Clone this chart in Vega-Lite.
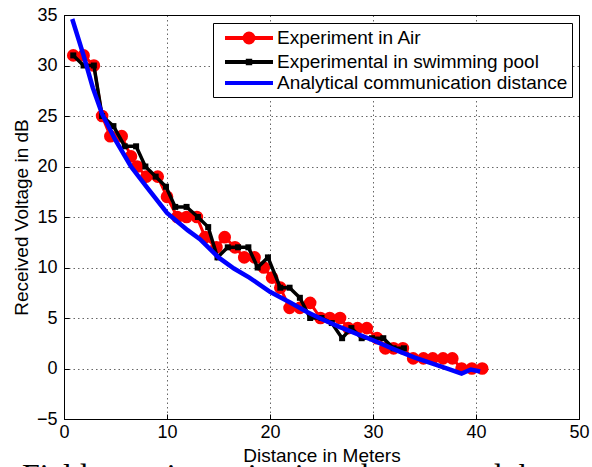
{
  "$schema": "https://vega.github.io/schema/vega-lite/v6.json",
  "autosize": {"type": "none"},
  "padding": {"left": 64, "top": 15, "right": 13, "bottom": 48},
  "width": 515,
  "height": 404,
  "background": "white",
  "title": {
    "text": "Field experiment in air and water and theoretical communication distance",
    "orient": "bottom",
    "anchor": "start",
    "frame": "group",
    "dx": -42,
    "offset": -4,
    "baseline": "top",
    "font": "Liberation Serif",
    "fontSize": 32,
    "fontWeight": "normal",
    "color": "#000"
  },
  "config": {
    "font": "Liberation Sans",
    "view": {"stroke": "#000", "strokeWidth": 1},
    "axis": {
      "domainColor": "#000",
      "tickColor": "#000",
      "labelColor": "#000",
      "titleColor": "#000",
      "labelFont": "Liberation Sans",
      "titleFont": "Liberation Sans",
      "labelFontSize": 18,
      "titleFontSize": 19,
      "titleFontWeight": "normal",
      "gridColor": "#000",
      "gridDash": [1.5, 3],
      "gridOpacity": 0.6,
      "gridWidth": 1,
      "tickSize": -5,
      "labelFlush": false,
      "labelOverlap": false
    },
    "legend": {
      "orient": "none",
      "legendX": 149,
      "legendY": 8,
      "strokeColor": "#000",
      "fillColor": "#fff",
      "padding": 4,
      "labelFont": "Liberation Sans",
      "labelFontSize": 19,
      "labelColor": "#000",
      "labelLimit": 400,
      "symbolSize": 300,
      "symbolStrokeWidth": 4,
      "symbolOffset": 21,
      "labelOffset": 17,
      "rowPadding": 0
    }
  },
  "data": {
    "values": [
      {"series": "Experiment in Air", "distance": 0.9, "voltage": 31},
      {"series": "Experiment in Air", "distance": 1.9, "voltage": 31},
      {"series": "Experiment in Air", "distance": 2.9, "voltage": 30},
      {"series": "Experiment in Air", "distance": 3.7, "voltage": 25},
      {"series": "Experiment in Air", "distance": 4.5, "voltage": 23},
      {"series": "Experiment in Air", "distance": 5.6, "voltage": 23},
      {"series": "Experiment in Air", "distance": 6.5, "voltage": 21},
      {"series": "Experiment in Air", "distance": 7.1, "voltage": 20},
      {"series": "Experiment in Air", "distance": 8.0, "voltage": 19},
      {"series": "Experiment in Air", "distance": 9.1, "voltage": 19},
      {"series": "Experiment in Air", "distance": 10.0, "voltage": 17},
      {"series": "Experiment in Air", "distance": 11.0, "voltage": 15},
      {"series": "Experiment in Air", "distance": 11.9, "voltage": 15},
      {"series": "Experiment in Air", "distance": 12.9, "voltage": 15},
      {"series": "Experiment in Air", "distance": 13.7, "voltage": 13},
      {"series": "Experiment in Air", "distance": 14.8, "voltage": 12},
      {"series": "Experiment in Air", "distance": 15.6, "voltage": 13},
      {"series": "Experiment in Air", "distance": 16.6, "voltage": 12},
      {"series": "Experiment in Air", "distance": 17.5, "voltage": 11},
      {"series": "Experiment in Air", "distance": 18.5, "voltage": 11},
      {"series": "Experiment in Air", "distance": 19.4, "voltage": 10},
      {"series": "Experiment in Air", "distance": 20.2, "voltage": 9},
      {"series": "Experiment in Air", "distance": 21.0, "voltage": 8},
      {"series": "Experiment in Air", "distance": 21.9, "voltage": 6},
      {"series": "Experiment in Air", "distance": 22.9, "voltage": 6},
      {"series": "Experiment in Air", "distance": 23.9, "voltage": 6.5},
      {"series": "Experiment in Air", "distance": 24.9, "voltage": 5},
      {"series": "Experiment in Air", "distance": 25.8, "voltage": 5},
      {"series": "Experiment in Air", "distance": 26.8, "voltage": 5},
      {"series": "Experiment in Air", "distance": 27.6, "voltage": 4},
      {"series": "Experiment in Air", "distance": 28.5, "voltage": 4},
      {"series": "Experiment in Air", "distance": 29.4, "voltage": 4},
      {"series": "Experiment in Air", "distance": 30.4, "voltage": 3},
      {"series": "Experiment in Air", "distance": 31.2, "voltage": 2},
      {"series": "Experiment in Air", "distance": 32.0, "voltage": 2},
      {"series": "Experiment in Air", "distance": 32.9, "voltage": 2},
      {"series": "Experiment in Air", "distance": 33.9, "voltage": 1},
      {"series": "Experiment in Air", "distance": 34.9, "voltage": 1},
      {"series": "Experiment in Air", "distance": 35.8, "voltage": 1},
      {"series": "Experiment in Air", "distance": 36.8, "voltage": 1},
      {"series": "Experiment in Air", "distance": 37.7, "voltage": 1},
      {"series": "Experiment in Air", "distance": 38.6, "voltage": 0},
      {"series": "Experiment in Air", "distance": 39.6, "voltage": 0},
      {"series": "Experiment in Air", "distance": 40.6, "voltage": 0},

      {"series": "Experimental in swimming pool", "distance": 0.9, "voltage": 31},
      {"series": "Experimental in swimming pool", "distance": 1.9, "voltage": 30},
      {"series": "Experimental in swimming pool", "distance": 2.9, "voltage": 30},
      {"series": "Experimental in swimming pool", "distance": 3.7, "voltage": 25},
      {"series": "Experimental in swimming pool", "distance": 4.8, "voltage": 24},
      {"series": "Experimental in swimming pool", "distance": 5.9, "voltage": 22},
      {"series": "Experimental in swimming pool", "distance": 7.0, "voltage": 22},
      {"series": "Experimental in swimming pool", "distance": 7.9, "voltage": 20},
      {"series": "Experimental in swimming pool", "distance": 8.9, "voltage": 19},
      {"series": "Experimental in swimming pool", "distance": 9.9, "voltage": 18},
      {"series": "Experimental in swimming pool", "distance": 10.8, "voltage": 16},
      {"series": "Experimental in swimming pool", "distance": 11.9, "voltage": 16},
      {"series": "Experimental in swimming pool", "distance": 13.0, "voltage": 15},
      {"series": "Experimental in swimming pool", "distance": 14.0, "voltage": 14},
      {"series": "Experimental in swimming pool", "distance": 14.9, "voltage": 11},
      {"series": "Experimental in swimming pool", "distance": 15.9, "voltage": 12},
      {"series": "Experimental in swimming pool", "distance": 16.9, "voltage": 12},
      {"series": "Experimental in swimming pool", "distance": 17.9, "voltage": 12},
      {"series": "Experimental in swimming pool", "distance": 18.8, "voltage": 10},
      {"series": "Experimental in swimming pool", "distance": 19.8, "voltage": 11},
      {"series": "Experimental in swimming pool", "distance": 21.0, "voltage": 8},
      {"series": "Experimental in swimming pool", "distance": 21.9, "voltage": 8},
      {"series": "Experimental in swimming pool", "distance": 22.9, "voltage": 7},
      {"series": "Experimental in swimming pool", "distance": 23.9, "voltage": 5},
      {"series": "Experimental in swimming pool", "distance": 25.0, "voltage": 5},
      {"series": "Experimental in swimming pool", "distance": 26.0, "voltage": 4.5},
      {"series": "Experimental in swimming pool", "distance": 27.0, "voltage": 3},
      {"series": "Experimental in swimming pool", "distance": 27.9, "voltage": 4},
      {"series": "Experimental in swimming pool", "distance": 28.9, "voltage": 3},
      {"series": "Experimental in swimming pool", "distance": 29.9, "voltage": 3},
      {"series": "Experimental in swimming pool", "distance": 31.0, "voltage": 3},
      {"series": "Experimental in swimming pool", "distance": 32.0, "voltage": 2},
      {"series": "Experimental in swimming pool", "distance": 33.0, "voltage": 2},

      {"series": "Analytical communication distance", "distance": 0.8, "voltage": 34.6},
      {"series": "Analytical communication distance", "distance": 1.9, "voltage": 31},
      {"series": "Analytical communication distance", "distance": 2.8, "voltage": 27.8},
      {"series": "Analytical communication distance", "distance": 3.7, "voltage": 25.2},
      {"series": "Analytical communication distance", "distance": 5.0, "voltage": 22.6},
      {"series": "Analytical communication distance", "distance": 6.5, "voltage": 20},
      {"series": "Analytical communication distance", "distance": 8.0, "voltage": 18},
      {"series": "Analytical communication distance", "distance": 10.0, "voltage": 15.4},
      {"series": "Analytical communication distance", "distance": 12.0, "voltage": 13.7},
      {"series": "Analytical communication distance", "distance": 13.2, "voltage": 12.8},
      {"series": "Analytical communication distance", "distance": 15.0, "voltage": 11.0},
      {"series": "Analytical communication distance", "distance": 16.5, "voltage": 9.9},
      {"series": "Analytical communication distance", "distance": 18.0, "voltage": 9.0},
      {"series": "Analytical communication distance", "distance": 20.0, "voltage": 7.6},
      {"series": "Analytical communication distance", "distance": 22.0, "voltage": 6.5},
      {"series": "Analytical communication distance", "distance": 23.6, "voltage": 5.6},
      {"series": "Analytical communication distance", "distance": 25.0, "voltage": 4.9},
      {"series": "Analytical communication distance", "distance": 26.8, "voltage": 4.1},
      {"series": "Analytical communication distance", "distance": 28.5, "voltage": 3.4},
      {"series": "Analytical communication distance", "distance": 30.0, "voltage": 2.8},
      {"series": "Analytical communication distance", "distance": 32.3, "voltage": 1.8},
      {"series": "Analytical communication distance", "distance": 34.0, "voltage": 1.1},
      {"series": "Analytical communication distance", "distance": 36.0, "voltage": 0.4},
      {"series": "Analytical communication distance", "distance": 37.5, "voltage": -0.1},
      {"series": "Analytical communication distance", "distance": 38.6, "voltage": -0.5},
      {"series": "Analytical communication distance", "distance": 39.5, "voltage": -0.1},
      {"series": "Analytical communication distance", "distance": 40.4, "voltage": -0.3}
    ]
  },
  "encoding": {
    "x": {
      "field": "distance", "type": "quantitative",
      "scale": {"domain": [0, 50], "nice": false},
      "axis": {
        "orient": "bottom", "title": "Distance in Meters",
        "values": [0, 10, 20, 30, 40, 50], "grid": true,
        "labelPadding": 9, "titleY": 27, "titleBaseline": "top"
      }
    },
    "y": {
      "field": "voltage", "type": "quantitative",
      "scale": {"domain": [-5, 35], "nice": false},
      "axis": {
        "orient": "left", "title": "Received Voltage in dB",
        "values": [-5, 0, 5, 10, 15, 20, 25, 30, 35], "grid": true,
        "labelPadding": 12, "titleX": -37, "titleAngle": 270,
        "titleBaseline": "alphabetic", "titleAlign": "center"
      }
    }
  },
  "layer": [
    {
      "transform": [{"filter": "datum.series === 'Experiment in Air'"}],
      "mark": {"type": "line", "strokeWidth": 3},
      "encoding": {
        "color": {
          "field": "series", "type": "nominal",
          "scale": {
            "domain": ["Experiment in Air", "Experimental in swimming pool", "Analytical communication distance"],
            "range": ["#ff0000", "#000000", "#0000ff"]
          },
          "legend": {
            "title": null,
            "encode": {
              "symbols": {
                "update": {
                  "shape": {"signal": "datum.value === 'Experiment in Air' ? 'M-2.77,0H2.77M-0.52,0A0.52,0.52,0,1,1,0.52,0A0.52,0.52,0,1,1,-0.52,0Z' : datum.value === 'Experimental in swimming pool' ? 'M-2.77,0H2.77M-0.14,-0.14H0.14V0.14H-0.14Z' : 'M-2.77,0H2.77'"},
                  "fill": {"scale": "color", "field": "value"},
                  "stroke": {"scale": "color", "field": "value"},
                  "strokeWidth": {"value": 4},
                  "opacity": {"value": 1}
                }
              }
            }
          }
        }
      }
    },
    {
      "transform": [{"filter": "datum.series === 'Experiment in Air'"}],
      "mark": {"type": "circle", "size": 160, "color": "#ff0000", "opacity": 1}
    },
    {
      "transform": [{"filter": "datum.series === 'Experimental in swimming pool'"}],
      "mark": {"type": "line", "strokeWidth": 3.5},
      "encoding": {
        "color": {"field": "series", "type": "nominal"}
      }
    },
    {
      "transform": [{"filter": "datum.series === 'Experimental in swimming pool'"}],
      "mark": {"type": "square", "size": 36, "color": "#000000", "opacity": 1}
    },
    {
      "transform": [{"filter": "datum.series === 'Analytical communication distance'"}],
      "mark": {"type": "line", "strokeWidth": 4.5},
      "encoding": {
        "color": {"field": "series", "type": "nominal"}
      }
    }
  ]
}
